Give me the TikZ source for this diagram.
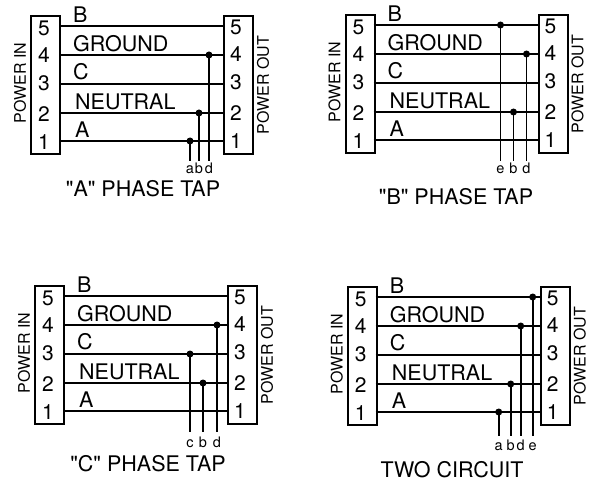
\documentclass[tikz,border=0pt]{standalone}
\usepackage{fontspec}
\setmainfont{TeX Gyre Heros}
\newfontfamily\plainhv{TeX Gyre Heros}
\tikzset{
  x=1pt,y=-1pt,
  connbox/.style={draw,line width=2pt,minimum width=29pt,minimum height=138pt,inner sep=0pt,anchor=north west},
  wire/.style={line width=1.9pt},
  pin/.style={font=\fontsize{21}{21}\selectfont,inner sep=0pt,anchor=center},
  sig/.style={font=\fontsize{21.5}{21.5}\selectfont,inner sep=0pt,anchor=west},
  side/.style={font=\fontsize{16}{16}\selectfont,inner sep=0pt,rotate=90,anchor=center},
  dot/.style={circle,fill=black,inner sep=0pt,minimum size=7pt},
  tapl/.style={font=\fontsize{14.5}{14.5}\selectfont,inner sep=0pt,anchor=base},
  ttl/.style={font=\plainhv\fontsize{21.5}{21.5}\selectfont,inner sep=0pt,anchor=center}
}
% #1 id, #2 x, #3 y, #4 taps (x/wire-y/letter), #5 tap end, #6 tap label baseline y
\newcommand{\wirepanel}[6]{%
\begin{scope}[shift={(#2,#3)}]
  \node[connbox] (#1-L) at (0,0) {};
  \node[connbox] (#1-R) at (193,0) {};
  \foreach \n/\wy/\ly in {5/11/13,4/40/40,3/69/68,2/98/99,1/126/127}{
    \coordinate (#1-l\n) at (29,\wy);
    \coordinate (#1-r\n) at (193,\wy);
    \draw[wire] (#1-l\n) -- (#1-r\n);
    \node[pin] (#1-pl\n) at (14,\ly) {\n};
    \node[pin] (#1-pr\n) at (206,\ly-1) {\n};
  }
  \node[sig] (#1-B) at (43,0) {B};
  \node[sig] (#1-G) at (43,29) {GROUND};
  \node[sig] (#1-C) at (43,57) {C};
  \node[sig] (#1-N) at (45,87) {NEUTRAL};
  \node[sig] (#1-A) at (45,115) {A};
  \node[side] (#1-in) at (-10,68) {POWER IN};
  \node[side] (#1-out) at (233,70) {POWER OUT};
  \foreach \tx/\tw/\tn in {#4}{
    \node[dot] (#1-d\tn) at (\tx,\tw) {};
    \coordinate (#1-e\tn) at (\tx,#5);
    \draw[wire] (#1-d\tn.center) -- (#1-e\tn);
    \node[tapl] (#1-t\tn) at (\tx,#6) {\tn};
  }
\end{scope}}
\begin{document}
\begin{tikzpicture}
\useasboundingbox (0,0) rectangle (594,481);
\wirepanel{p}{30}{15}{160/126/a,169/98/b,179/40/d}{146}{159}
\wirepanel{q}{344.5}{14}{156/11/e,169/98/b,182/40/d}{147}{160}
\wirepanel{r}{34}{285}{156/69/c,169/98/b,183/40/d}{147}{162}
\wirepanel{s}{346.7}{286}{152/126/a,164/98/b,174/40/d,186/11/e}{150}{164}
\node[ttl] (tp) at (143,189) {"A" PHASE TAP};
\node[ttl] (tq) at (456,197) {"B" PHASE TAP};
\node[ttl] (tr) at (148,464) {"C" PHASE TAP};
\node[ttl] (ts) at (452,470) {TWO CIRCUIT};
\end{tikzpicture}
\end{document}
